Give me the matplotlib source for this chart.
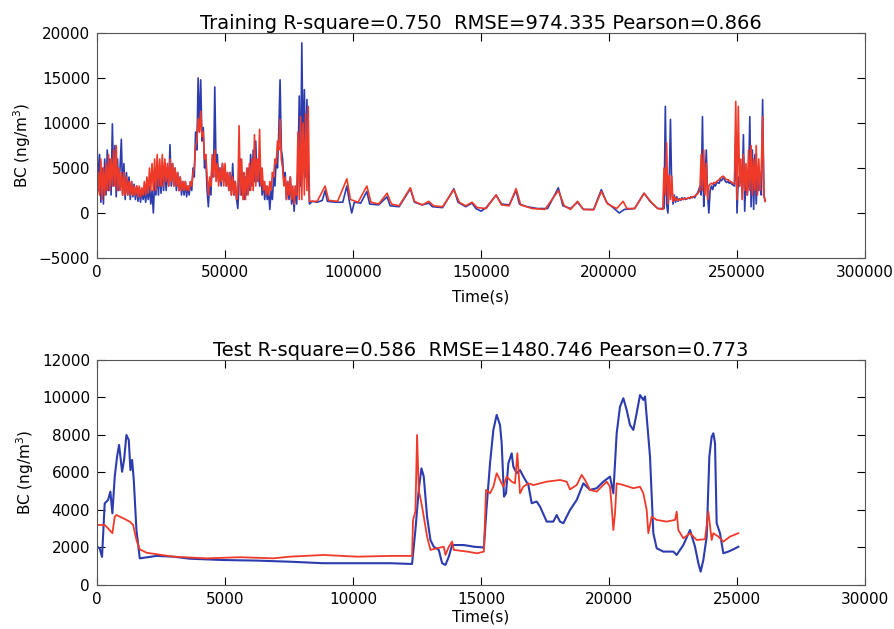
import matplotlib
matplotlib.use("Agg")
import matplotlib.pyplot as plt

# ---- training data (time in s, BC in ng/m^3) ----
# dense early part, sampled every 500 s from 0 to 83000 s
early_t = list(range(0, 83001, 500))
early_obs = [
    7900, 2500, 6500, 1200, 5000, 1000, 6000, 2000, 7000, 2500, 6000, 2000, 9900, 3000, 7500, 1800,
    6000, 2500, 5000, 8200, 2000, 5500, 1500, 4500, 2000, 4000, 1500, 3500, 1800, 3200, 1500, 3000,
    1300, 2800, 1200, 2600, 1500, 2500, 1200, 2800, 1500, 3000, 1000, 2500, 0, 3500, 2000, 4500,
    2000, 5000, 2200, 5000, 2500, 5500, 2500, 5000, 3000, 7600, 3000, 5500, 3000, 5000, 2500, 4500,
    2500, 4000, 2000, 3500, 2000, 3500, 1800, 3000, 2000, 3500, 2500, 5000, 4000, 9000, 7000, 15000,
    9000, 14800, 8000, 9500, 5000, 6000, 2500, 700, 3500, 2000, 6000, 4000, 14000, 5000, 6500, 3500,
    5000, 3000, 5500, 3500, 5000, 3000, 4500, 2500, 4500, 2000, 5500, 2000, 3500, 1500, 500, 3500,
    6000, 2000, 4500, 1500, 4000, 2000, 5000, 2500, 6500, 3000, 7000, 3500, 8000, 3500, 6000, 3000,
    5000, 2000, 3500, 1500, 3000, 1500, 2500, 400, 2500, 1500, 4000, 3000, 6000, 5000, 9000, 14800,
    7000, 6000, 3500, 4500, 1500, 3500, 1500, 4000, 1000, 2500, 200, 3000, 1000, 5000, 13000, 3000,
    18900, 6000, 13700, 4000, 12600, 5000, 1000,
]
early_pred = [
    1500, 4500, 2000, 6000, 1500, 5000, 2000, 5500, 2500, 6500, 2500, 6000, 3000, 7000, 3000, 7500,
    2500, 5000, 2500, 4500, 2000, 4500, 2000, 4000, 2000, 3500, 2000, 3500, 2000, 3000, 2000, 3000,
    1800, 3000, 1800, 2800, 2000, 3500, 2000, 4000, 2200, 5000, 2500, 5500, 2500, 6000, 2500, 6500,
    3000, 6000, 3000, 6500, 3000, 6000, 3500, 5500, 3000, 6000, 3500, 5500, 3000, 5000, 3000, 4500,
    2500, 4000, 2500, 3500, 2500, 3500, 2500, 3000, 2500, 3500, 3000, 4500, 5000, 7500, 8000, 10500,
    9000, 11300, 8500, 9000, 6000, 6500, 4000, 2000, 4000, 3000, 6500, 4000, 7000, 3500, 5500, 3000,
    5000, 3500, 5500, 3000, 5500, 3000, 4500, 2500, 4500, 2000, 4000, 2000, 3500, 1500, 2500, 9700,
    2000, 6000, 1500, 4500, 1500, 5000, 2000, 5500, 2500, 6000, 2500, 8700, 3000, 6000, 3500, 9300,
    3000, 5000, 2500, 3500, 2000, 3000, 2000, 3500, 2500, 4500, 4000, 6000, 5500, 8000, 7000, 10400,
    6000, 5000, 3000, 4000, 1500, 3500, 2000, 4000, 1500, 3000, 1000, 3000, 2000, 9000, 1500, 10700,
    1500, 10000, 2000, 11000, 2500, 11850, 1300,
]

# calm middle part
mid_t_obs = [
    84000, 86000, 88000, 89100, 90000, 93000, 96000, 97600, 98500, 99500, 100500, 103000, 105400,
    106500, 110000, 113300, 114500, 118000, 122400, 124000, 127000, 129600, 131000, 135000, 139400,
    141000, 144000, 146500, 148000, 150000, 152000, 155900, 158000, 161000, 163700, 165000, 168000,
    172000, 176000, 180200, 182000, 185000, 187700, 190000, 194000, 197000, 199000, 202000, 204000,
    206000, 210000, 213700, 216000, 219000,
]
mid_obs = [
    1300, 1200, 1400, 2500, 1300, 1200, 1200, 3000, 1400, 0, 1200, 1100, 2400,
    1000, 900, 1800, 800, 700, 2700, 1200, 900, 1100, 700, 600, 2700,
    1200, 700, 1100, 500, 200, 600, 2000, 1000, 900, 2500, 1000, 700,
    500, 500, 2800, 800, 500, 1200, 400, 400, 2600, 1200, 500, 0,
    400, 500, 2200, 1300, 500,
]
mid_t_pred = [
    86000, 89100, 90500, 94000, 97600, 99000, 102000, 105400, 107000, 110000, 113300, 115000,
    118000, 122400, 124000, 127000, 129600, 131500, 135000, 139400, 141500, 144000, 146500,
    148500, 152000, 155900, 158000, 161000, 163700, 165500, 170000, 175000, 180200, 182500,
    185000, 187700, 190000, 194000, 197000, 199500, 203000, 205500, 207000, 210000, 213700,
    216500, 219000,
]
mid_pred = [
    1300, 3000, 1400, 1300, 3800, 1500, 1200, 3000, 1200, 1000, 2200, 1000,
    800, 2800, 1300, 900, 1300, 800, 700, 2600, 1200, 800, 1200,
    600, 500, 2000, 900, 800, 2700, 900, 500, 400, 2500, 800,
    400, 1300, 400, 350, 2400, 1000, 500, 1300, 500, 500, 2200,
    1200, 500,
]

# busy late part, sampled every 500 s from 221000 to 261000 s
late_t = list(range(221000, 261001, 500))
late_obs = [
    500, 500, 11850, 1000, 0, 3000, 10400, 2500, 1000, 2000,
    1200, 1800, 1300, 1600, 1400, 1700, 1500, 1700, 1500, 1600,
    1700, 1600, 1800, 1700, 1800, 1700, 2000, 2200, 2500, 3000,
    2000, 10700, 740, 3500, 7000, 2000, 0, 2500, 3000, 2600,
    3200, 3000, 3300, 3400, 3300, 3700, 3600, 3900, 3800, 3500,
    3400, 3500, 3300, 3400, 3200, 3100, 3000, 8700, 0, 4000,
    3000, 5000, 2500, 8700, 200, 4500, 2000, 3500, 10700, 700,
    7000, 400, 6500, 1000, 5000, 2500, 4000, 2000, 12600, 2000,
    1300,
]
late_pred = [
    400, 5000, 2000, 7800, 1000, 4200, 1500, 4100, 1300, 1800,
    1400, 1600, 1400, 1500, 1500, 1600, 1500, 1600, 1600, 1600,
    1700, 1700, 1700, 1800, 1800, 1900, 2000, 2100, 2300, 2500,
    6500, 2500, 7000, 2000, 5500, 1500, 3000, 3200, 3300, 3200,
    3400, 3300, 3500, 3600, 3700, 3900, 4000, 4100, 4000, 3800,
    3700, 3700, 3600, 3500, 3400, 3300, 3200, 12400, 1500, 11850,
    3000, 6000, 1500, 6500, 2500, 5500, 2000, 7000, 2500, 7500,
    2000, 6000, 2500, 7500, 2000, 6000, 2500, 5000, 10700, 2000,
    1300,
]

# ---- test data ----
test_t_obs = [
    0, 104, 196, 300, 431, 522, 600, 692, 783, 861, 914, 979, 1057, 1148, 1240, 1305, 1370, 1436,
    1540, 1670, 2323, 2975, 3628, 4933, 6238, 7543, 8848, 10153, 11458, 12306, 12437, 12567,
    12672, 12763, 12893, 13024, 13154, 13350, 13481, 13611, 13742, 13872, 14329, 14720, 15112,
    15221, 15352, 15482, 15612, 15742, 15807, 15898, 15977, 16068, 16198, 16263, 16393, 16523,
    16654, 16849, 16979, 17174, 17305, 17565, 17825, 17956, 18086, 18216, 18476, 18737, 18997,
    19258, 19518, 19779, 20039, 20169, 20299, 20429, 20560, 20690, 20820, 20950, 21080, 21211,
    21341, 21406, 21471, 21601, 21731, 21862, 22122, 22513, 22643, 22903, 23164, 23359, 23489,
    23580, 23684, 23815, 23919, 24010, 24075, 24140, 24205, 24335, 24466, 24661, 24856, 25052,
]
test_obs = [
    2050, 1950, 1500, 4350, 4530, 4980, 3820, 5780, 6840, 7470, 6840, 6040, 6670, 8000, 7730, 6130,
    6670, 5600, 2930, 1420, 1550, 1510, 1400, 1330, 1300, 1240, 1160, 1160, 1160, 1120, 2930, 5070,
    6220, 5780, 3640, 2400, 2040, 1870, 1160, 1070, 1510, 2130, 2130, 2040, 2000,
    4180, 6490, 8270, 9070, 8530, 7560, 4710, 4890, 6490, 7020, 6310, 5960, 6130,
    5780, 5330, 4360, 4450, 4180, 3380, 3380, 3730, 3380, 3290, 4000, 4530, 5420,
    5070, 5160, 5510, 5780, 4890, 8090, 9510, 9960, 9330, 8530, 8270, 9160, 10130,
    9870, 10050, 8980, 6840, 2760, 1960, 1780, 1780, 1600, 2130, 2930, 2040, 1160,
    710, 1330, 2580, 6840, 7910, 8090, 7560, 3290, 2760, 1690, 1780, 1900, 2040,
]

test_t_pred = [
    0, 300, 431, 600, 692, 757, 1018, 1279, 1410, 1540, 1670, 1932, 2975, 4280, 5585, 6890, 7543,
    8848, 10153, 11458, 12306, 12345, 12437, 12502, 12567, 12698, 12893, 13024, 13285, 13546,
    13611, 13742, 13872, 13937, 14459, 14850, 15112, 15195, 15352, 15482, 15612, 15742, 15872,
    16003, 16198, 16328, 16419, 16523, 16654, 16849, 17044, 17305, 17565, 18086, 18346, 18476,
    18737, 18932, 19062, 19258, 19518, 19909, 20039, 20104, 20169, 20234, 20299, 20560, 20950,
    21211, 21341, 21471, 21536, 21666, 21862, 22252, 22578, 22643, 22708, 22903, 23164, 23424,
    23749, 23880, 24010, 24075, 24270, 24466, 24726, 25052,
]
test_pred = [
    3200, 3200, 3020, 2760, 3640, 3730, 3560, 3380, 3200, 2400, 1900, 1720, 1510, 1420, 1480, 1420,
    1510, 1600, 1510, 1550, 1550, 3470, 3910, 8000, 5070, 4180, 2580, 1870, 1960, 2040,
    1600, 2040, 2310, 1870, 1780, 1690, 1780, 5070, 4890, 5240, 5960, 5600, 5240,
    5780, 5510, 5420, 7020, 4890, 5240, 5420, 5330, 5420, 5510, 5600, 5510, 5100,
    5330, 5870, 5600, 5070, 4980, 5510, 5240, 4180, 2930, 3820, 5420, 5330, 5160,
    5240, 4890, 4000, 2760, 3640, 3470, 3380, 3470, 3910, 2930, 2490, 2760, 2400,
    2440, 3910, 2400, 2760, 2580, 2310, 2580, 2760,
]

train_t_obs = early_t + mid_t_obs + late_t
train_obs = early_obs + mid_obs + late_obs
train_t_pred = early_t + mid_t_pred + late_t
train_pred = early_pred + mid_pred + late_pred

obs_color = "#2c3cae"
pred_color = "#ef3a2a"

fig = plt.figure(figsize=(8.95, 6.29), dpi=100)
ax1 = fig.add_axes([0.1084, 0.5898, 0.8581, 0.3577])
ax2 = fig.add_axes([0.1084, 0.0700, 0.8581, 0.3577])

ax1.plot(train_t_obs, train_obs, color=obs_color, lw=1.2)
ax1.plot(train_t_pred, train_pred, color=pred_color, lw=1.2)
ax1.set_xlim(0, 300000)
ax1.set_ylim(-5000, 20000)
ax1.set_title("Training R-square=0.750  RMSE=974.335 Pearson=0.866", fontsize=14, pad=3)
ax1.set_xlabel("Time(s)", fontsize=11, labelpad=7)

ax2.plot(test_t_obs, test_obs, color=obs_color, lw=1.5)
ax2.plot(test_t_pred, test_pred, color=pred_color, lw=1.3)
ax2.set_xlim(0, 30000)
ax2.set_ylim(0, 12000)
ax2.set_yticks(range(0, 12001, 2000))
ax2.set_title("Test R-square=0.586  RMSE=1480.746 Pearson=0.773", fontsize=14, pad=3)
ax2.set_xlabel("Time(s)", fontsize=11, labelpad=2)

for ax in (ax1, ax2):
    ax.set_ylabel("BC (ng/m$^3$)", fontsize=11, labelpad=4)
    ax.tick_params(direction="in", top=True, right=True, labelsize=11, length=6, pad=5)
    for s in ax.spines.values():
        s.set_color("#555555")

fig.savefig("out.png", dpi=100)
